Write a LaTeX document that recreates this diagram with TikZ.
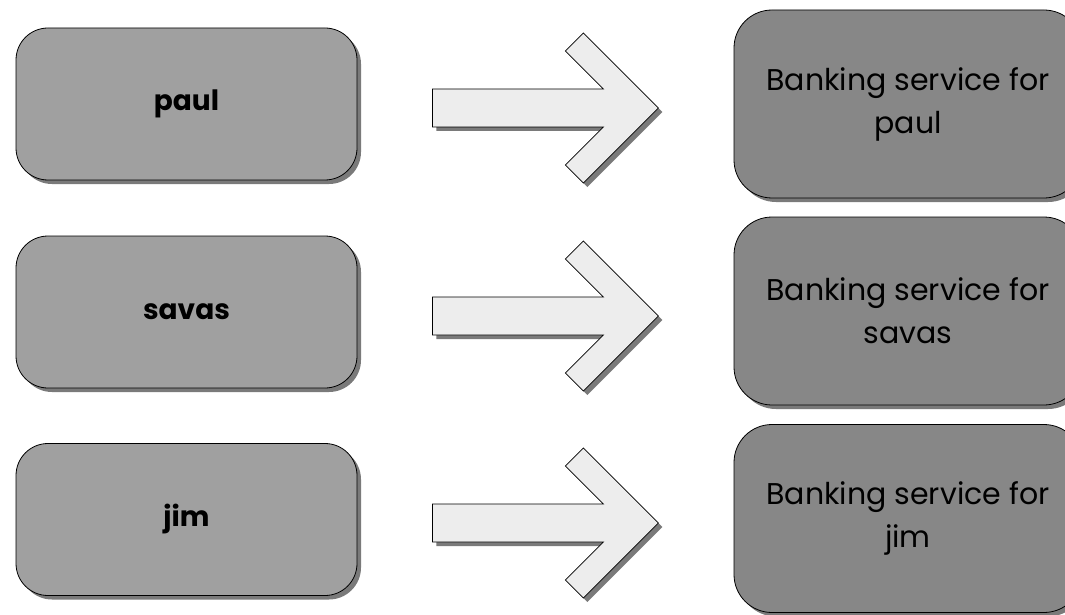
\documentclass[tikz,border=0pt]{standalone}
\usepackage{fontspec}
\setmainfont{Poppins}
\usetikzlibrary{shadows,calc}
\definecolor{usergray}{HTML}{A0A0A0}
\definecolor{servicegray}{HTML}{878787}
\definecolor{arrowgray}{HTML}{EDEDED}
\definecolor{shadowgray}{HTML}{7A7A7A}
\begin{document}
\begin{tikzpicture}[x=1pt,y=-1pt,
        castshadow/.style={drop shadow={shadow xshift=4pt,shadow yshift=-4pt,
            fill=shadowgray,opacity=1}},
        userbox/.style={draw=black,line width=0.8pt,castshadow,fill=usergray,
            rounded corners=32pt,minimum width=341pt,minimum height=152pt,
            font=\fontsize{28}{32}\selectfont\bfseries},
        servicebox/.style={draw=black,line width=0.8pt,castshadow,fill=servicegray,
            rounded corners=38pt,minimum width=348pt,minimum height=188pt,
            align=center,font=\fontsize{30}{43}\selectfont},
        bigarrow/.pic={
            \path[draw=black,line width=0.8pt,fill=arrowgray,castshadow]
                (0,-19) -- (171,-19) -- (133,-57) -- (151,-75) -- (226,0)
                -- (151,75) -- (133,57) -- (171,19) -- (0,19) -- cycle;
        }]
    \useasboundingbox (0,0) rectangle (1065,615);
    \clip (0,0) rectangle (1065,615);
    % who asks
    \node[userbox] (paul) at (186.5,104) {paul};
    \node[userbox] (savas) at (186.5,312) {savas};
    \node[userbox] (jim) at (186.5,519.5) {jim};
    % what they get
    \node[servicebox] (paulservice) at (908,104) {Banking service for\\paul};
    \node[servicebox] (savasservice) at (908,311) {Banking service for\\savas};
    \node[servicebox] (jimservice) at (908,518.5) {Banking service for\\jim};
    % fat arrows in between
    \pic at ($(paul.east)+(75,4)$) {bigarrow};
    \pic at ($(savas.east)+(75,4)$) {bigarrow};
    \pic at ($(jim.east)+(75,3.5)$) {bigarrow};
\end{tikzpicture}
\end{document}
